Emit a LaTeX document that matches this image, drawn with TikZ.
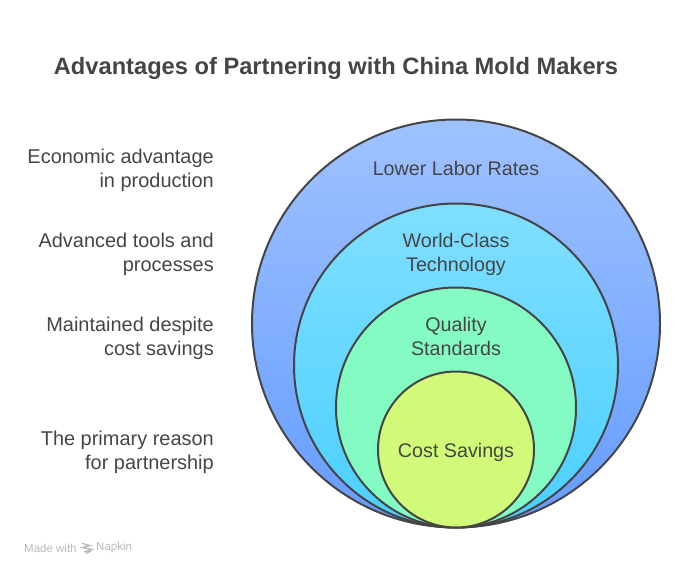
\documentclass[tikz,border=0pt]{standalone}
\usepackage{fontspec}
\setmainfont{Liberation Sans}
\definecolor{ca1}{HTML}{A0C2FF}
\definecolor{ca2}{HTML}{649CFF}
\definecolor{cb1}{HTML}{80DFFF}
\definecolor{cb2}{HTML}{4ACFFF}
\definecolor{cc}{HTML}{84FBC3}
\definecolor{cd}{HTML}{D0FA78}
\definecolor{ink}{HTML}{454545}
\definecolor{wmgray}{HTML}{B8B8B8}
\pgfdeclareverticalshading{ringa}{100bp}{color(0bp)=(ca2); color(25bp)=(ca2); color(75bp)=(ca1); color(100bp)=(ca1)}
\pgfdeclareverticalshading{ringb}{100bp}{color(0bp)=(cb2); color(25bp)=(cb2); color(75bp)=(cb1); color(100bp)=(cb1)}
\tikzset{
  ring/.style={circle,draw=ink,line width=2pt,inner sep=0pt,outer sep=0pt},
  body/.style={text=ink,font=\fontsize{19.7}{24}\selectfont,align=center,inner sep=0pt},
  side/.style={text=ink,font=\fontsize{19.95}{24}\selectfont,align=right,anchor=east,inner sep=0pt},
  wm/.style={text=wmgray,font=\fontsize{11.5}{12}\selectfont,inner sep=0pt},
}
\begin{document}
\begin{tikzpicture}[x=1pt,y=-1pt]
\useasboundingbox (0,0) rectangle (684,577);
\node[ring,minimum size=408pt,shading=ringa] (r1) at (456,323.5) {};
\node[ring,minimum size=324pt,shading=ringb] (r2) at (456,365.5) {};
\node[ring,minimum size=240pt,fill=cc] (r3) at (456,407.5) {};
\node[ring,minimum size=156pt,fill=cd] (r4) at (456,449.5) {};
\node[text=ink,font=\bfseries\fontsize{23.67}{28}\selectfont,inner sep=0pt] (title) at (336,68.5) {Advantages of Partnering with China Mold Makers};
\node[body] (t1) at (456,168) {Lower Labor Rates};
\node[body] (t2) at (456,254) {World-Class\\Technology};
\node[body] (t3) at (456,336) {Quality\\Standards};
\node[body] (t4) at (456,452) {Cost Savings};
\node[side] (s1) at (214,170) {Economic advantage\\in production};
\node[side] (s2) at (214,254) {Advanced tools and\\processes};
\node[side] (s3) at (214,338) {Maintained despite\\cost savings};
\node[side] (s4) at (214,452) {The primary reason\\for partnership};
\node[wm,anchor=west] (w1) at (24,548) {Made with};
\node[wm,anchor=west] (w2) at (96,548) {Napkin};
\draw[wmgray,line width=1.3pt] (82,543.5)--(90,545.5)--(82.5,547.5)--(92,549.5)--(84,552) (86,553.5)--(91,551);
\end{tikzpicture}
\end{document}
